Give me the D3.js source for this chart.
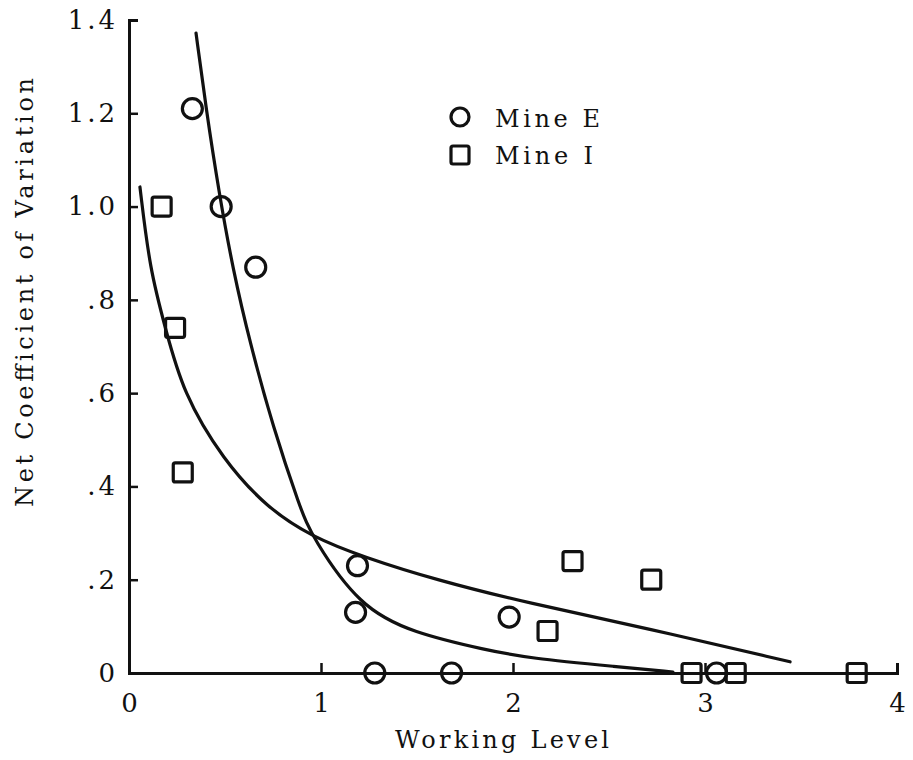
<!DOCTYPE html>
<html>
<head>
<meta charset="utf-8">
<script src="https://cdn.jsdelivr.net/npm/d3@7/dist/d3.min.js"></script>
<style>
  html, body { margin: 0; padding: 0; background: #fff; }
  svg { display: block; }
  text { font-family: "DejaVu Serif", serif; fill: #111; }
</style>
</head>
<body>
<svg id="chart" width="913" height="760"></svg>
<script>
// Observed points, Mine E (circles)
const mineEX = [0.33, 0.48, 0.66, 1.19, 1.18, 1.28, 1.68, 1.98, 3.06];
const mineEY = [1.21, 1.00, 0.87, 0.23, 0.13, 0.00, 0.00, 0.12, 0.00];
// Observed points, Mine I (squares)
const mineIX = [0.17, 0.24, 0.28, 2.18, 2.31, 2.72, 2.93, 3.16, 3.79];
const mineIY = [1.00, 0.74, 0.43, 0.09, 0.24, 0.20, 0.00, 0.00, 0.00];

// Fitted curve for Mine E
const curveEX = [0.349, 0.401, 0.469, 0.542, 0.630, 0.750, 0.891, 0.953, 1.203, 1.479, 1.865, 2.078, 2.557, 2.833];
const curveEY = [1.372, 1.211, 1.029, 0.864, 0.708, 0.527, 0.354, 0.292, 0.141, 0.086, 0.049, 0.032, 0.013, 0.002];
// Fitted curve for Mine I
const curveIX = [0.057, 0.109, 0.188, 0.281, 0.490, 0.719, 0.953, 1.219, 1.604, 2.078, 2.698, 3.443];
const curveIY = [1.042, 0.864, 0.742, 0.600, 0.457, 0.354, 0.292, 0.249, 0.199, 0.150, 0.096, 0.024];

// Axis ticks
const xTicks = [0, 1, 2, 3, 4];
const xTickLabels = ["0", "1", "2", "3", "4"];
const yTicks = [0, 0.2, 0.4, 0.6, 0.8, 1.0, 1.2, 1.4];
const yTickLabels = ["0", ".2", ".4", ".6", ".8", "1.0", "1.2", "1.4"];

const seriesNames = ["Mine E", "Mine I"];

const svg = d3.select("#chart");
const ink = "#111";

const x = d3.scaleLinear().domain([0, 4]).range([129, 897]);
const y = d3.scaleLinear().domain([0, 1.4]).range([673, 20]);

// Y axis: ticks point inward (to the right)
const yAxis = svg.append("g")
  .attr("transform", `translate(${x(0)},0)`)
  .call(d3.axisLeft(y)
    .tickValues(yTicks)
    .tickFormat((d, i) => yTickLabels[i])
    .tickSizeInner(-9)
    .tickSizeOuter(-9)
    .tickPadding(14));

// X axis: ticks point inward (upward)
const xAxis = svg.append("g")
  .attr("transform", `translate(0,${y(0)})`)
  .call(d3.axisBottom(x)
    .tickValues(xTicks)
    .tickFormat((d, i) => xTickLabels[i])
    .tickSizeInner(-10)
    .tickSizeOuter(-10)
    .tickPadding(21));

[yAxis, xAxis].forEach(g => {
  g.select(".domain").attr("stroke", ink).attr("stroke-width", 3).attr("fill", "none");
  g.selectAll(".tick line").attr("stroke", ink).attr("stroke-width", 2.5);
  g.selectAll(".tick text")
    .attr("fill", ink)
    .style("font-family", '"DejaVu Serif", serif')
    .style("font-size", "26px")
    .style("letter-spacing", "3px");
});
yAxis.selectAll(".tick text").attr("dx", "3px");
xAxis.selectAll(".tick text").attr("dx", "1.5px");

// Fitted curves, smoothed through the traced points
const line = d3.line()
  .x(d => x(d[0]))
  .y(d => y(d[1]))
  .curve(d3.curveBasis);

[[curveEX, curveEY], [curveIX, curveIY]].forEach(([xs, ys]) => {
  svg.append("path")
    .datum(xs.map((v, i) => [v, ys[i]]))
    .attr("d", line)
    .attr("fill", "none")
    .attr("stroke", ink)
    .attr("stroke-width", 3.2)
    .attr("stroke-linecap", "round");
});

// Markers
const circleR = 10;
const sq = 19;

svg.append("g").selectAll("circle")
  .data(mineEX.map((v, i) => [v, mineEY[i]]))
  .join("circle")
  .attr("cx", d => x(d[0]))
  .attr("cy", d => y(d[1]))
  .attr("r", circleR)
  .attr("fill", "none")
  .attr("stroke", ink)
  .attr("stroke-width", 3.2);

svg.append("g").selectAll("rect")
  .data(mineIX.map((v, i) => [v, mineIY[i]]))
  .join("rect")
  .attr("x", d => x(d[0]) - sq / 2)
  .attr("y", d => y(d[1]) - sq / 2)
  .attr("width", sq)
  .attr("height", sq)
  .attr("rx", 2)
  .attr("fill", "none")
  .attr("stroke", ink)
  .attr("stroke-width", 3.2);

// Legend
const legend = svg.append("g");
legend.append("circle")
  .attr("cx", 460).attr("cy", 117).attr("r", 9)
  .attr("fill", "none").attr("stroke", ink).attr("stroke-width", 3.2);
legend.append("rect")
  .attr("x", 451).attr("y", 146).attr("width", 18).attr("height", 18).attr("rx", 2)
  .attr("fill", "none").attr("stroke", ink).attr("stroke-width", 3.2);
legend.append("text")
  .attr("x", 495).attr("y", 127)
  .attr("textLength", 105).attr("lengthAdjust", "spacing")
  .style("font-size", "24px")
  .text(seriesNames[0]);
legend.append("text")
  .attr("x", 495).attr("y", 164)
  .attr("textLength", 98).attr("lengthAdjust", "spacing")
  .style("font-size", "24px")
  .text(seriesNames[1]);

// Axis titles
svg.append("text")
  .attr("x", 395).attr("y", 748)
  .attr("textLength", 214).attr("lengthAdjust", "spacing")
  .style("font-size", "24px")
  .text("Working Level");

svg.append("text")
  .attr("transform", "translate(33,507) rotate(-90)")
  .attr("x", 0).attr("y", 0)
  .attr("textLength", 429).attr("lengthAdjust", "spacing")
  .style("font-size", "24px")
  .text("Net Coefficient of Variation");
</script>
</body>
</html>
